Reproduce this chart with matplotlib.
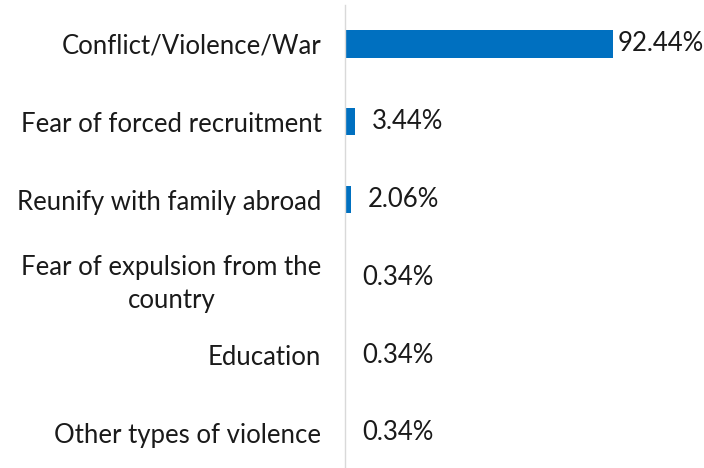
import matplotlib.pyplot as plt

reasons = ['Conflict/Violence/War', 'Fear of forced recruitment', 'Reunify with family abroad',
           'Fear of expulsion from the\ncountry', 'Education', 'Other types of violence']
shares = [92.44, 3.44, 2.06, 0.34, 0.34, 0.34]

plt.rcParams['font.family'] = ['Lato', 'DejaVu Sans']

fig = plt.figure(figsize=(7.04, 4.68), dpi=100)
ax = fig.add_axes([345 / 704, 0, 359 / 704, 463 / 468])

pos = range(len(reasons))
ax.barh(pos, shares, height=0.35, color='#0070C0', linewidth=0)

for i, v in enumerate(shares):
    off = 3 if v > 50 else 12
    ax.annotate(f'{v:.2f}%', (v, i), xytext=(off, 0), textcoords='offset points',
                va='center', ha='left', fontsize=18.5, color='#1a1a1a')

ax.set_xlim(0, 123.8)
ax.set_ylim(5.45, -0.5)
ax.set_yticks(list(pos))
ax.set_yticklabels(reasons, fontsize=18.5, color='#1a1a1a', multialignment='center',
                   linespacing=1.4)
ax.tick_params(axis='y', length=0, pad=17)
ax.set_xticks([])
for s in ['top', 'right', 'bottom']:
    ax.spines[s].set_visible(False)
ax.spines['left'].set_color('#d9d9d9')
ax.spines['left'].set_linewidth(1.0)

fig.savefig('out.png', dpi=100)
